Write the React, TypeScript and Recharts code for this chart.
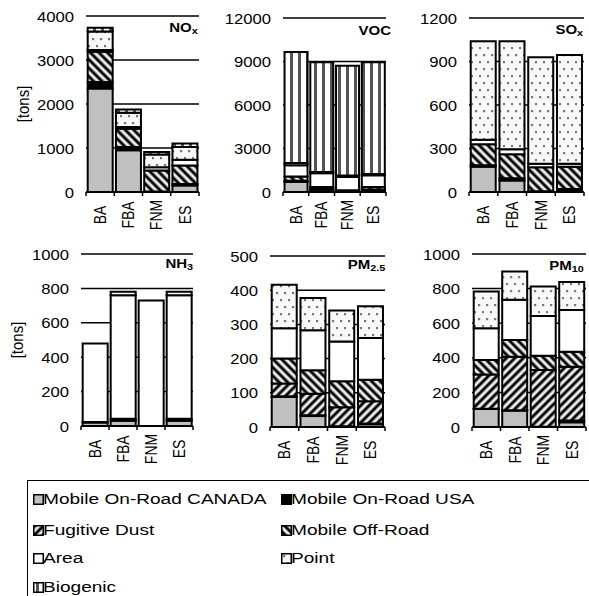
import React from 'react';
import { BarChart, Bar, XAxis, YAxis, CartesianGrid } from 'recharts';

const categories = ['BA', 'FBA', 'FNM', 'ES'];
const seriesKeys = ['canada', 'usa', 'dust', 'offroad', 'area', 'point', 'biogenic'];
const seriesNames = ['Mobile On-Road CANADA', 'Mobile On-Road USA', 'Fugitive Dust', 'Mobile Off-Road', 'Area', 'Point', 'Biogenic'];

// rows = series (canada, usa, dust, offroad, area, point, biogenic); columns = BA, FBA, FNM, ES
const noxValues = [
  [2350, 950, 0, 150],
  [150, 75, 10, 30],
  [0, 0, 0, 0],
  [690, 415, 480, 420],
  [40, 40, 75, 135],
  [415, 320, 290, 285],
  [90, 75, 55, 80],
];
const vocValues = [
  [690, 150, 0, 150],
  [80, 50, 10, 30],
  [0, 0, 0, 0],
  [300, 150, 110, 170],
  [780, 950, 920, 800],
  [150, 80, 100, 100],
  [7650, 7570, 7560, 7700],
];
const soxValues = [
  [175, 80, 0, 5],
  [10, 15, 5, 15],
  [0, 0, 0, 0],
  [145, 165, 165, 155],
  [30, 35, 25, 20],
  [680, 745, 735, 750],
  [0, 0, 0, 0],
];
const nh3Values = [
  [20, 30, 0, 30],
  [3, 12, 0, 12],
  [0, 0, 0, 0],
  [0, 0, 0, 0],
  [457, 718, 730, 718],
  [0, 20, 0, 20],
  [0, 0, 0, 0],
];
const pm25Values = [
  [88, 32, 0, 8],
  [2, 2, 2, 2],
  [37, 63, 56, 65],
  [73, 69, 76, 63],
  [89, 117, 116, 122],
  [127, 94, 91, 93],
  [0, 0, 0, 0],
];
const pm10Values = [
  [104, 95, 0, 27],
  [2, 2, 2, 10],
  [198, 309, 327, 311],
  [83, 97, 83, 87],
  [184, 232, 230, 242],
  [212, 164, 170, 161],
  [0, 0, 0, 0],
];

const noxTicks = [0, 1000, 2000, 3000, 4000];
const vocTicks = [0, 3000, 6000, 9000, 12000];
const soxTicks = [0, 300, 600, 900, 1200];
const nh3Ticks = [0, 200, 400, 600, 800, 1000];
const pm25Ticks = [0, 100, 200, 300, 400, 500];
const pm10Ticks = [0, 200, 400, 600, 800, 1000];

const fills = ['#c0c0c0', '#000000', 'url(#pDust)', 'url(#pOff)', '#ffffff', 'url(#pPoint)', 'url(#pBio)'];
const FONT = '"Liberation Sans", Arial, sans-serif';

const YW = 60;
const MT = 8;
const XH = 50;
const MR = 4;

function CatTick(props: any) {
  const { x, payload, index, band, axisY } = props;
  const ly = axisY + 23;
  return (
    <g>
      <line x1={x - band / 2} x2={x - band / 2} y1={axisY} y2={axisY + 4} stroke="#000" strokeWidth={1.5} />
      {index === categories.length - 1 && (
        <line x1={x + band / 2} x2={x + band / 2} y1={axisY} y2={axisY + 4} stroke="#000" strokeWidth={1.5} />
      )}
      <text
        transform={`translate(${x},${ly}) rotate(-90) scale(1,1.15)`}
        textAnchor="middle"
        dominantBaseline="central"
        fontSize={14}
        fontFamily={FONT}
        fill="#000"
      >
        {payload.value}
      </text>
    </g>
  );
}

function ValTick(props: any) {
  const { y, payload } = props;
  const tx = YW - 12;
  return (
    <text
      transform={`translate(${tx},${y}) scale(1.19,1)`}
      textAnchor="end"
      dy="0.4em"
      fontSize={14}
      fontFamily={FONT}
      fill="#000"
    >
      {payload.value}
    </text>
  );
}

function Panel(props: any) {
  const { plotLeft, plotTop, plotW, plotH, values, ticks } = props;
  const data = categories.map((c, i) => {
    const row: any = { cat: c };
    seriesKeys.forEach((k, s) => {
      row[k] = values[s][i];
    });
    return row;
  });
  const band = plotW / categories.length;
  const axisY = MT + plotH;
  return (
    <div style={{ position: 'absolute', left: plotLeft - YW, top: plotTop - MT }}>
      <BarChart
        width={YW + plotW + MR}
        height={MT + plotH + XH}
        data={data}
        margin={{ top: MT, right: MR, left: 0, bottom: 0 }}
        barCategoryGap="6%"
      >
        <CartesianGrid horizontal vertical={false} stroke="#000" strokeWidth={1.5} />
        <XAxis
          dataKey="cat"
          height={XH}
          interval={0}
          axisLine={{ stroke: '#000', strokeWidth: 2 }}
          tickLine={false}
          tick={(p: any) => <CatTick {...p} band={band} axisY={axisY} />}
        />
        <YAxis
          width={YW}
          domain={[0, ticks[ticks.length - 1]]}
          ticks={ticks}
          interval={0}
          axisLine={false}
          tickLine={false}
          tick={(p: any) => <ValTick {...p} />}
        />
        {seriesKeys.map((k, s) => (
          <Bar key={k} dataKey={k} stackId="a" fill={fills[s]} stroke="#000" strokeWidth={2} isAnimationActive={false} />
        ))}
      </BarChart>
    </div>
  );
}

function Title(props: any) {
  const { right, cy, main, sub } = props;
  return (
    <div
      style={{
        position: 'absolute',
        right: 589 - right,
        top: cy - 8,
        height: 16,
        lineHeight: '16px',
        fontFamily: FONT,
        fontWeight: 'bold',
        fontSize: 12.5,
        whiteSpace: 'nowrap',
        transform: 'scaleX(1.2)',
        transformOrigin: 'right center',
      }}
    >
      {main}
      <span style={{ fontSize: 9, verticalAlign: '-2px' }}>{sub}</span>
    </div>
  );
}

function TonsLabel(props: any) {
  const { cx, cy } = props;
  return (
    <div
      style={{
        position: 'absolute',
        left: cx - 30,
        top: cy - 9,
        width: 60,
        height: 18,
        lineHeight: '18px',
        textAlign: 'center',
        fontFamily: FONT,
        fontSize: 15,
        transform: 'rotate(-90deg) scaleY(1.15)',
      }}
    >
      [tons]
    </div>
  );
}

function Swatch(props: any) {
  const { fill } = props;
  return (
    <svg width={11} height={11} style={{ position: 'absolute', left: 0, top: -5.5 }}>
      <rect x={0.75} y={0.75} width={9.5} height={9.5} fill={fill} stroke="#000" strokeWidth={1.5} />
    </svg>
  );
}

const legendRows = [499, 530, 558, 587];
const legendCols = [33, 281];

export default function App() {
  return (
    <div style={{ position: 'absolute', left: 0, top: 0, width: 589, height: 596, overflow: 'hidden', background: '#fff' }}>
      <svg width={0} height={0} style={{ position: 'absolute' }}>
        <defs>
          <pattern id="pDust" patternUnits="userSpaceOnUse" width={6} height={6} patternTransform="rotate(45)">
            <rect width={6} height={6} fill="#fff" />
            <rect x={0} width={1} height={6} fill="#777" />
            <rect x={1} width={2.2} height={6} fill="#000" />
            <rect x={3.2} width={1} height={6} fill="#777" />
          </pattern>
          <pattern id="pOff" patternUnits="userSpaceOnUse" width={6} height={6} patternTransform="rotate(-45)">
            <rect width={6} height={6} fill="#fff" />
            <rect x={0} width={1} height={6} fill="#777" />
            <rect x={1} width={2.2} height={6} fill="#000" />
            <rect x={3.2} width={1} height={6} fill="#777" />
          </pattern>
          <pattern id="pPoint" patternUnits="userSpaceOnUse" width={8} height={14}>
            <rect width={8} height={14} fill="#f8f8f8" />
            <rect x={2} y={2} width={2.2} height={2.2} fill="#777" />
            <rect x={6} y={9} width={2.2} height={2.2} fill="#777" />
          </pattern>
          <pattern id="pBio" patternUnits="userSpaceOnUse" width={8} height={8}>
            <rect width={8} height={8} fill="#fff" />
            <rect x={3} width={3} height={8} fill="#555" />
          </pattern>
        </defs>
      </svg>

      <Panel plotLeft={86} plotTop={16} plotW={113} plotH={176} values={noxValues} ticks={noxTicks} />
      <Panel plotLeft={283} plotTop={18} plotW={103} plotH={174} values={vocValues} ticks={vocTicks} />
      <Panel plotLeft={469} plotTop={18} plotW={115} plotH={174} values={soxValues} ticks={soxTicks} />
      <Panel plotLeft={81} plotTop={254} plotW={112} plotH={172} values={nh3Values} ticks={nh3Ticks} />
      <Panel plotLeft={270} plotTop={256} plotW={115} plotH={171} values={pm25Values} ticks={pm25Ticks} />
      <Panel plotLeft={472} plotTop={254} plotW={114} plotH={173} values={pm10Values} ticks={pm10Ticks} />

      <Title right={198} cy={28} main="NO" sub="x" />
      <Title right={391} cy={31} main="VOC" sub="" />
      <Title right={583} cy={30} main="SO" sub="x" />
      <Title right={193} cy={264} main="NH" sub="3" />
      <Title right={385} cy={265} main="PM" sub="2.5" />
      <Title right={584} cy={266} main="PM" sub="10" />

      <TonsLabel cx={22.5} cy={104} />
      <TonsLabel cx={17} cy={340} />

      <div
        style={{
          position: 'absolute',
          left: 27,
          top: 480,
          width: 600,
          height: 140,
          border: '1px solid #000',
          boxSizing: 'border-box',
        }}
      />
      {seriesNames.map((name, i) => {
        const row = Math.floor(i / 2);
        const col = i % 2;
        return (
          <div key={name} style={{ position: 'absolute', left: legendCols[col], top: legendRows[row], height: 0 }}>
            <Swatch fill={fills[i]} />
            <div
              style={{
                position: 'absolute',
                left: 10,
                top: -10,
                height: 20,
                lineHeight: '20px',
                fontFamily: FONT,
                fontSize: 15.5,
                whiteSpace: 'nowrap',
                transform: 'scaleX(1.23)',
                transformOrigin: 'left center',
              }}
            >
              {name}
            </div>
          </div>
        );
      })}
    </div>
  );
}
